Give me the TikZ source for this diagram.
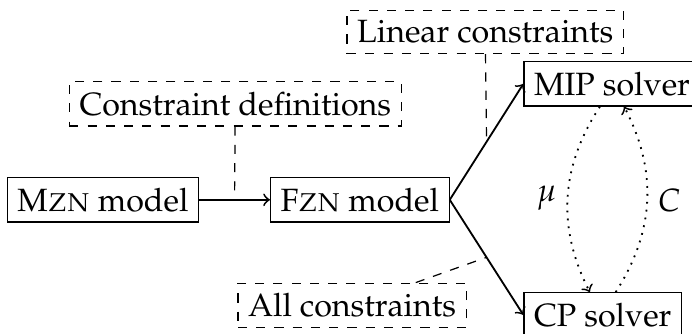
\documentclass[tikz,border=0pt]{standalone}
\usepackage[T1]{fontenc}
\usepackage{mathpazo}

\begin{document}
\begin{tikzpicture}[
  font=\fontsize{10.6}{12.7}\selectfont,
  model/.style={draw},
  note/.style={draw,dashed},
  link/.style={->,semithick},
  swap/.style={->,dotted,semithick}]
  \useasboundingbox (0,0) rectangle (8.0,3.85);

  % translation pipeline
  \node[model] (mzn) at (1.19,1.54) {M\textsc{zn} model};
  \node[model] (fzn) at (4.16,1.54) {F\textsc{zn} model};
  \node[model,anchor=west] (mip) at (6.05,2.88) {MIP solver};
  \node[model,anchor=west] (cp) at (6.05,0.21) {CP solver};

  \draw[link] (mzn) -- coordinate (flat) (fzn);
  \draw[link] (fzn.east) -- coordinate (tomip) (mip.west);
  \draw[link] (fzn.east) -- coordinate (tocp) (cp.west);

  % what each step is given
  \node[note] (defs) at (2.72,2.65) {Constraint definitions};
  \node[note] (lin) at (5.61,3.48) {Linear constraints};
  \node[note] (all) at (4.07,0.32) {All constraints};
  \draw[dashed] (defs) -- (flat);
  \draw[dashed] (lin) -- (tomip);
  \draw[dashed] (all) -- (tocp);

  % exchange between the solvers
  \draw[swap] ([xshift=-1.4mm]mip.south) to[bend right=30]
    node[left] {$\mu$} ([xshift=-1.5mm]cp.north);
  \draw[swap] ([xshift=1.5mm]cp.north) to[bend right=30]
    node[right] {$C$} ([xshift=1.4mm]mip.south);
\end{tikzpicture}
\end{document}
